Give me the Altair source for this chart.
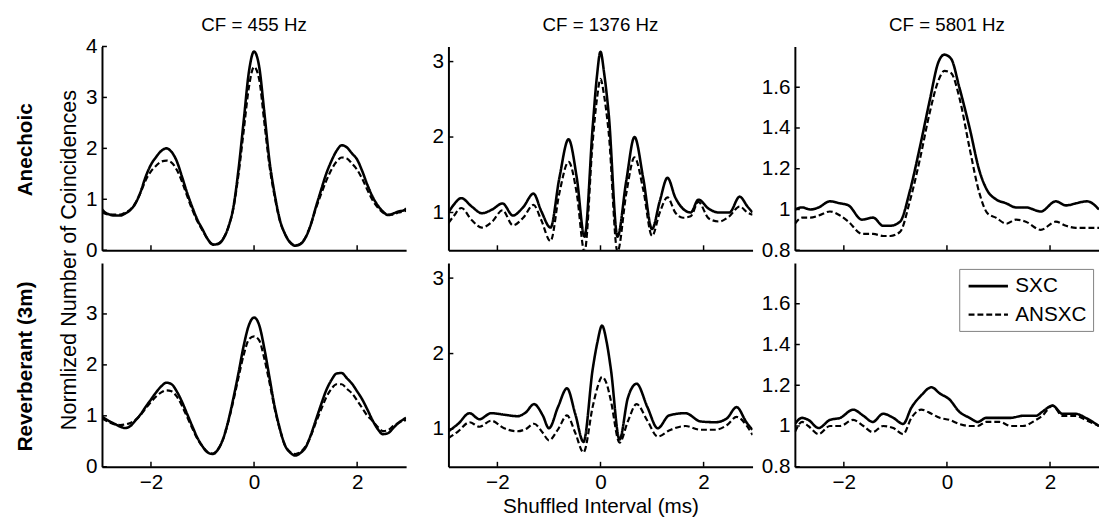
import altair as alt
import pandas as pd

FONT = "Liberation Sans, Arial, Helvetica, sans-serif"
W, H = 309, 207
XDOM = [-2.95, 2.95]
SERIES = ["SXC", "ANSXC"]
COL_TITLES = ["CF = 455 Hz", "CF = 1376 Hz", "CF = 5801 Hz"]
ROW_TITLES = ["Anechoic", "Reverberant (3m)"]
Y_TITLE = "Normlized Number of Coincidences"
X_TITLE = "Shuffled Interval (ms)"
X_TICKS = [-2, 0, 2]

# ---- left column (CF = 455 Hz) ----
L_X = [-2.95, -2.9, -2.8, -2.7, -2.6, -2.5, -2.4, -2.3, -2.2, -2.1, -2.0, -1.9, -1.8, -1.7, -1.6,
       -1.5, -1.4, -1.3, -1.2, -1.1, -1.0, -0.9, -0.8, -0.7, -0.6, -0.5, -0.4, -0.3, -0.2, -0.1,
       0.0, 0.1, 0.2, 0.3, 0.4, 0.5, 0.6, 0.7, 0.8, 0.9, 1.0, 1.1, 1.2, 1.3, 1.4, 1.5, 1.6, 1.7,
       1.8, 1.9, 2.0, 2.1, 2.2, 2.3, 2.4, 2.5, 2.6, 2.7, 2.8, 2.9, 2.95]
TL_SXC = [0.80, 0.75, 0.70, 0.68, 0.68, 0.72, 0.79, 0.92, 1.15, 1.45, 1.68, 1.83, 1.95, 2.00, 1.93,
          1.75, 1.45, 1.13, 0.85, 0.60, 0.41, 0.22, 0.11, 0.12, 0.22, 0.45, 0.85, 1.60, 2.55, 3.50,
          3.90, 3.60, 2.70, 1.75, 1.10, 0.60, 0.32, 0.15, 0.09, 0.12, 0.25, 0.50, 0.85, 1.18, 1.50,
          1.75, 1.95, 2.06, 2.02, 1.90, 1.78, 1.55, 1.28, 1.05, 0.88, 0.76, 0.69, 0.72, 0.76, 0.78, 0.82]
TL_ANS = [0.75, 0.72, 0.70, 0.70, 0.70, 0.74, 0.80, 0.93, 1.13, 1.38, 1.55, 1.66, 1.74, 1.76, 1.72,
          1.58, 1.35, 1.07, 0.80, 0.57, 0.39, 0.22, 0.12, 0.13, 0.23, 0.45, 0.83, 1.50, 2.35, 3.20,
          3.60, 3.35, 2.50, 1.65, 1.05, 0.58, 0.32, 0.16, 0.10, 0.13, 0.26, 0.50, 0.82, 1.10, 1.36,
          1.58, 1.74, 1.82, 1.80, 1.70, 1.58, 1.40, 1.18, 0.98, 0.84, 0.74, 0.70, 0.70, 0.74, 0.76, 0.78]
BL_SXC = [0.98, 0.95, 0.89, 0.84, 0.79, 0.76, 0.80, 0.91, 1.03, 1.18, 1.32, 1.46, 1.58, 1.65, 1.62,
          1.48, 1.28, 1.04, 0.80, 0.57, 0.40, 0.28, 0.25, 0.34, 0.55, 0.90, 1.35, 1.85, 2.38, 2.78,
          2.93, 2.78, 2.32, 1.75, 1.18, 0.75, 0.42, 0.28, 0.22, 0.27, 0.38, 0.62, 0.92, 1.22, 1.50,
          1.70, 1.83, 1.84, 1.74, 1.63, 1.48, 1.32, 1.12, 0.91, 0.74, 0.64, 0.66, 0.76, 0.86, 0.93, 0.96]
BL_ANS = [0.95, 0.92, 0.87, 0.83, 0.82, 0.83, 0.86, 0.92, 1.02, 1.15, 1.27, 1.38, 1.46, 1.50, 1.48,
          1.38, 1.20, 0.98, 0.76, 0.55, 0.40, 0.29, 0.26, 0.34, 0.54, 0.88, 1.30, 1.76, 2.20, 2.50,
          2.56, 2.48, 2.12, 1.65, 1.14, 0.73, 0.42, 0.29, 0.25, 0.29, 0.40, 0.60, 0.87, 1.12, 1.36,
          1.53, 1.62, 1.62, 1.53, 1.44, 1.30, 1.15, 1.00, 0.90, 0.78, 0.70, 0.72, 0.80, 0.86, 0.90, 0.92]

# ---- middle column (CF = 1376 Hz) ----
TM_X = [-2.95, -2.85, -2.7, -2.5, -2.3, -2.1, -1.9, -1.7, -1.5, -1.3, -1.15, -0.97, -0.8, -0.62,
        -0.46, -0.31, -0.15, -0.07, 0.0, 0.07, 0.16, 0.33, 0.5, 0.66, 0.83, 1.0, 1.15, 1.3, 1.45,
        1.6, 1.75, 1.9, 2.1, 2.3, 2.5, 2.7, 2.85, 2.95]
TM_SXC = [1.00, 1.10, 1.19, 1.08, 0.99, 1.04, 1.12, 0.96, 1.07, 1.25, 1.02, 0.80, 1.45, 1.97,
          1.46, 0.68, 2.15, 2.80, 3.13, 2.85, 2.30, 0.68, 1.42, 2.00, 1.45, 0.78, 1.15, 1.46, 1.20,
          1.05, 1.00, 1.17, 1.05, 1.00, 1.00, 1.21, 1.08, 1.00]
TM_ANS = [0.86, 0.95, 1.06, 0.90, 0.80, 0.88, 1.03, 0.83, 0.93, 1.10, 0.90, 0.62, 1.25, 1.67,
          1.25, 0.48, 1.95, 2.50, 2.77, 2.55, 2.05, 0.48, 1.25, 1.73, 1.30, 0.69, 1.00, 1.20, 1.00,
          0.93, 0.95, 1.14, 0.92, 0.88, 0.95, 1.08, 1.00, 0.97]
BM_X = [-2.95, -2.76, -2.54, -2.35, -2.12, -1.87, -1.61, -1.45, -1.29, -1.12, -1.0, -0.82, -0.65,
        -0.49, -0.33, -0.15, -0.06, 0.03, 0.12, 0.2, 0.37, 0.53, 0.7, 0.91, 1.11, 1.33, 1.65, 1.94,
        2.23, 2.45, 2.64, 2.83, 2.95]
BM_SXC = [0.97, 1.07, 1.21, 1.13, 1.21, 1.19, 1.17, 1.22, 1.33, 1.18, 1.01, 1.30, 1.54, 1.20,
          0.83, 1.80, 2.15, 2.37, 2.15, 1.80, 0.86, 1.41, 1.60, 1.29, 1.01, 1.18, 1.21, 1.10, 1.09,
          1.14, 1.29, 1.09, 0.99]
BM_ANS = [0.88, 0.97, 1.09, 1.03, 1.11, 1.01, 0.97, 1.00, 1.07, 0.95, 0.85, 1.00, 1.18, 0.95,
          0.69, 1.30, 1.55, 1.69, 1.60, 1.38, 0.82, 1.10, 1.33, 1.11, 0.90, 0.98, 1.04, 0.99, 0.99,
          1.05, 1.16, 1.05, 0.92]

# ---- right column (CF = 5801 Hz) ----
TR_X = [-2.95, -2.81, -2.65, -2.49, -2.27, -2.07, -1.91, -1.65, -1.43, -1.24, -1.1, -0.91, -0.72,
        -0.53, -0.33, -0.17, -0.05, 0.08, 0.24, 0.44, 0.63, 0.79, 0.95, 1.15, 1.34, 1.53, 1.82,
        2.11, 2.31, 2.5, 2.72, 2.95]
TR_SXC = [1.00, 1.01, 1.00, 1.01, 1.04, 1.03, 1.02, 0.95, 0.96, 0.92, 0.92, 0.94, 1.09, 1.30,
          1.54, 1.72, 1.76, 1.74, 1.60, 1.40, 1.19, 1.09, 1.05, 1.03, 1.01, 1.01, 0.99, 1.04, 1.02,
          1.03, 1.04, 1.00]
TR_ANS = [0.93, 0.96, 0.96, 0.97, 0.99, 0.97, 0.94, 0.88, 0.88, 0.87, 0.87, 0.89, 1.04, 1.24,
          1.48, 1.63, 1.68, 1.67, 1.55, 1.30, 1.08, 0.98, 0.96, 0.93, 0.95, 0.94, 0.90, 0.94, 0.92,
          0.91, 0.91, 0.91]
BR_X = [-2.95, -2.81, -2.69, -2.49, -2.27, -2.07, -1.82, -1.62, -1.44, -1.24, -1.04, -0.85, -0.69,
        -0.5, -0.3, -0.14, 0.05, 0.24, 0.44, 0.6, 0.76, 1.02, 1.24, 1.47, 1.73, 1.85, 2.05, 2.24,
        2.5, 2.69, 2.95]
BR_SXC = [1.01, 1.04, 1.03, 0.99, 1.03, 1.04, 1.08, 1.05, 1.02, 1.06, 1.04, 1.01, 1.09, 1.15,
          1.19, 1.16, 1.13, 1.07, 1.04, 1.02, 1.04, 1.04, 1.04, 1.05, 1.05, 1.07, 1.10, 1.06, 1.06,
          1.04, 1.00]
BR_ANS = [0.97, 1.02, 1.00, 0.96, 1.00, 1.00, 1.03, 1.00, 0.97, 1.00, 0.99, 0.96, 1.04, 1.08,
          1.06, 1.04, 1.03, 1.01, 1.00, 1.00, 1.02, 1.02, 1.00, 1.00, 1.03, 1.05, 1.10, 1.05, 1.05,
          1.03, 1.00]

Y_DOM = {"L": [0, 4], "M": [0.5, 3.2], "R": [0.8, 1.8]}
Y_TICKS_TOP = {"L": [0, 1, 2, 3, 4], "M": [1, 2, 3], "R": [0.8, 1.0, 1.2, 1.4, 1.6]}
Y_TICKS_BOT = {"L": [0, 1, 2, 3], "M": [1, 2, 3], "R": [0.8, 1.0, 1.2, 1.4, 1.6]}


def axis_common():
    return dict(domainColor="black", domainWidth=2, ticks=False, grid=False,
                labelFont=FONT, labelFontSize=21, labelColor="black", labelPadding=5,
                format="~g")


def xenc(show_labels, title):
    ax = alt.Axis(values=X_TICKS, labels=show_labels, title=title, titleFont=FONT,
                  titleFontSize=21, titleFontWeight="normal", titleColor="black",
                  titlePadding=3, labelFlush=False, **axis_common())
    return alt.X("x:Q", scale=alt.Scale(domain=XDOM, nice=False, zero=False), axis=ax)


def yenc(dom, ticks):
    ax = alt.Axis(values=ticks, title=None, **axis_common())
    return alt.Y("y:Q", scale=alt.Scale(domain=dom, nice=False, zero=False), axis=ax)


def text_layer(label, xpx, ypx, size, weight, angle, baseline):
    return alt.Chart(pd.DataFrame({"t": [label]})).mark_text(
        angle=angle, font=FONT, fontSize=size, fontWeight=weight, color="black",
        align="center", baseline=baseline).encode(
        text="t:N", x=alt.value(xpx), y=alt.value(ypx))


def panel(xs, sxc, ans, col, bottom, title=None, legend=False, texts=()):
    df = pd.DataFrame({"x": xs * 2, "y": sxc + ans,
                       "series": ["SXC"] * len(xs) + ["ANSXC"] * len(xs)})
    dom = Y_DOM[col]
    ticks = Y_TICKS_BOT[col] if bottom else Y_TICKS_TOP[col]
    xt = X_TITLE if (bottom and col == "M") else None
    if legend:
        leg = alt.Legend(orient="none", legendX=167, legendY=6, direction="vertical",
                         title=None, strokeColor="#808080", fillColor="white", padding=6,
                         labelFont=FONT, labelFontSize=21, labelColor="black", labelOffset=16,
                         symbolType="M-2,0H2", symbolSize=400, symbolOffset=12,
                         symbolStrokeWidth=2.3, symbolStrokeColor="black",
                         symbolFillColor="transparent", rowPadding=7, cornerRadius=0)
    else:
        leg = None
    line = alt.Chart(df).mark_line(clip=True, interpolate="monotone", color="black").encode(
        x=xenc(bottom, xt),
        y=yenc(dom, ticks),
        strokeDash=alt.StrokeDash("series:N", scale=alt.Scale(domain=SERIES, range=[[1, 0], [6, 3]]),
                                  legend=leg),
        strokeWidth=alt.StrokeWidth("series:N", scale=alt.Scale(domain=SERIES, range=[2.6, 2.2]),
                                    legend=None),
    )
    xt_layer = alt.Chart(pd.DataFrame({"x": X_TICKS})).mark_rule(color="black", strokeWidth=1.5).encode(
        x=xenc(bottom, xt), y=alt.value(H), y2=alt.value(H - 5))
    yt_layer = alt.Chart(pd.DataFrame({"y": ticks})).mark_rule(color="black", strokeWidth=1.5).encode(
        y=yenc(dom, ticks), x=alt.value(0), x2=alt.value(5))
    layers = [line, xt_layer, yt_layer] + [text_layer(*t) for t in texts]
    if title:
        layers.append(text_layer(title, W / 2, -16, 19, "normal", 0, "alphabetic"))
    return alt.layer(*layers).properties(width=W, height=H)


p11 = panel(L_X, TL_SXC, TL_ANS, "L", False, COL_TITLES[0],
            texts=[(ROW_TITLES[0], -77, 105, 21, "bold", 270, "middle"),
                   (Y_TITLE, -33, 217, 22, "normal", 270, "middle")])
p12 = panel(TM_X, TM_SXC, TM_ANS, "M", False, COL_TITLES[1])
p13 = panel(TR_X, TR_SXC, TR_ANS, "R", False, COL_TITLES[2])
p21 = panel(L_X, BL_SXC, BL_ANS, "L", True,
            texts=[(ROW_TITLES[1], -77, 105, 21, "bold", 270, "middle")])
p22 = panel(BM_X, BM_SXC, BM_ANS, "M", True)
p23 = panel(BR_X, BR_SXC, BR_ANS, "R", True, legend=True)

chart = alt.concat(p11, p12, p13, p21, p22, p23, columns=3,
                   spacing={"row": 13, "column": 43}, bounds="flush").resolve_scale(
    strokeDash="independent", strokeWidth="independent", x="independent", y="independent"
).resolve_legend(strokeDash="independent", strokeWidth="independent").properties(
    padding={"left": 7.5, "top": 4, "right": 0, "bottom": 0}, background="white"
).configure_view(stroke=None)

chart.save("out.html", embed_options={"renderer": "svg", "actions": False})
